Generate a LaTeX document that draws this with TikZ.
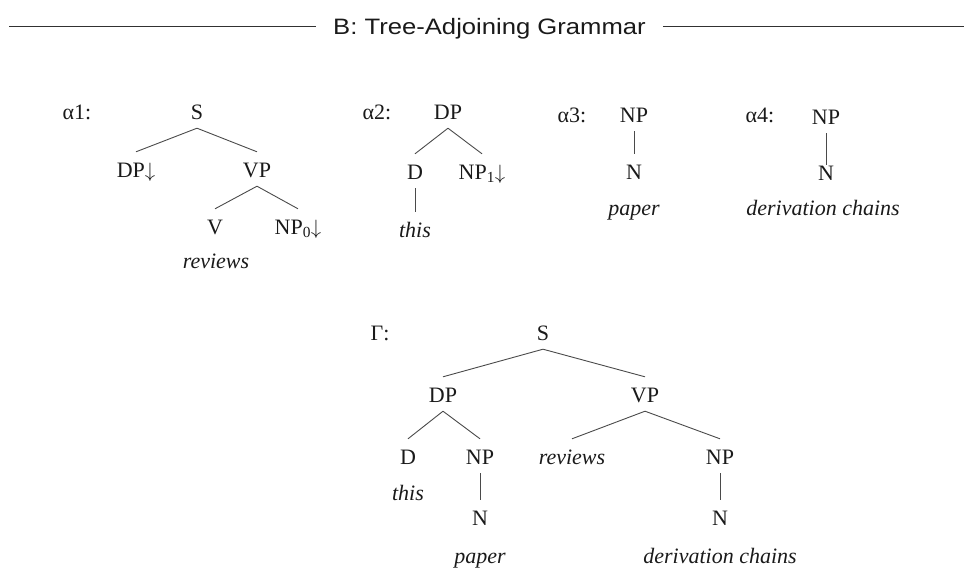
\documentclass[tikz,border=0pt]{standalone}
\usepackage{fontspec}
\setmainfont{Liberation Serif}
\newfontfamily\titlefont{Liberation Sans}
\usetikzlibrary{calc}
\definecolor{ink}{HTML}{1A1A1A}
\definecolor{edge}{HTML}{4A4A4A}
\begin{document}
\begin{tikzpicture}[x=1pt,y=-1pt,
  tnode/.style={inner sep=0pt,text height=25pt,text depth=9pt,anchor=base,
    font=\fontsize{22}{26}\selectfont,text=ink},
  lbl/.style={inner sep=0pt,anchor=base,font=\fontsize{22}{26}\selectfont,text=ink},
  edgeline/.style={draw=edge,line width=0.9pt},
  rule/.style={draw=ink!90,line width=1.5pt}]
\useasboundingbox (0,0) rectangle (964,573);
% title
\node[inner ysep=0pt,inner xsep=17pt,anchor=base,text=ink,font=\titlefont\fontsize{22.3}{26}\selectfont] (title) at (489.5,34) {\scalebox{1.15}[1]{B: Tree-Adjoining Grammar}};
\coordinate (lineL) at (9,26.5);
\coordinate (lineR) at (964,26.5);
\draw[rule] (lineL) -- (lineL -| title.west);
\draw[rule] (lineR -| title.east) -- (lineR);
% alpha1
\node[lbl] (a1) at (77,119) {α1:};
\node[tnode] (a1S) at (197,119) {S};
\node[tnode] (a1DP) at (136,177) {DP$\downarrow$};
\node[tnode] (a1VP) at (257,177) {VP};
\node[tnode] (a1V) at (215,234) {V};
\node[tnode] (a1NP) at (298,234) {NP\textsubscript{0}$\downarrow$};
\node[tnode] (a1w) at (216,268) {\itshape reviews};
\draw[edgeline] (a1S.south) -- (a1DP.north);
\draw[edgeline] (a1S.south) -- (a1VP.north);
\draw[edgeline] (a1VP.south) -- (a1V.north);
\draw[edgeline] (a1VP.south) -- (a1NP.north);
% alpha2
\node[lbl] (a2) at (377,119) {α2:};
\node[tnode] (a2DP) at (448,119) {DP};
\node[tnode] (a2D) at (415,179) {D};
\node[tnode] (a2NP) at (482,179) {NP\textsubscript{1}$\downarrow$};
\node[tnode] (a2w) at (415,237) {\itshape this};
\draw[edgeline] (a2DP.south) -- (a2D.north);
\draw[edgeline] (a2DP.south) -- (a2NP.north);
\draw[edgeline] (a2D.south) -- (a2w.north);
% alpha3
\node[lbl] (a3) at (572,122) {α3:};
\node[tnode] (a3NP) at (634,122) {NP};
\node[tnode] (a3N) at (634,179) {N};
\node[tnode] (a3w) at (634,215) {\itshape paper};
\draw[edgeline] (a3NP.south) -- (a3N.north);
% alpha4
\node[lbl] (a4) at (760,122) {α4:};
\node[tnode] (a4NP) at (826,124) {NP};
\node[tnode] (a4N) at (826,180) {N};
\node[tnode] (a4w) at (823,215) {\itshape derivation chains};
\draw[edgeline,shorten >=-10pt] (a4NP.south) -- (a4N.north);
% Gamma
\node[lbl] (g) at (380,340) {Γ:};
\node[tnode] (gS) at (543,340) {S};
\node[tnode] (gDP) at (443,402) {DP};
\node[tnode] (gVP) at (645,402) {VP};
\node[tnode] (gD) at (408,464) {D};
\node[tnode] (gNP) at (480,464) {NP};
\node[tnode] (gV) at (572,464) {\itshape reviews};
\node[tnode] (gNPb) at (720,464) {NP};
\node[tnode] (gthis) at (408,500) {\itshape this};
\node[tnode] (gN) at (480,525) {N};
\node[tnode] (gNb) at (720,525) {N};
\node[tnode] (gpaper) at (480,563) {\itshape paper};
\node[tnode] (gdc) at (720,563) {\itshape derivation chains};
\draw[edgeline] (gS.south) -- (gDP.north);
\draw[edgeline] (gS.south) -- (gVP.north);
\draw[edgeline] (gDP.south) -- (gD.north);
\draw[edgeline] (gDP.south) -- (gNP.north);
\draw[edgeline] (gVP.south) -- (gV.north);
\draw[edgeline] (gVP.south) -- (gNPb.north);
\draw[edgeline] (gNP.south) -- (gN.north);
\draw[edgeline] (gNPb.south) -- (gNb.north);
\end{tikzpicture}
\end{document}
